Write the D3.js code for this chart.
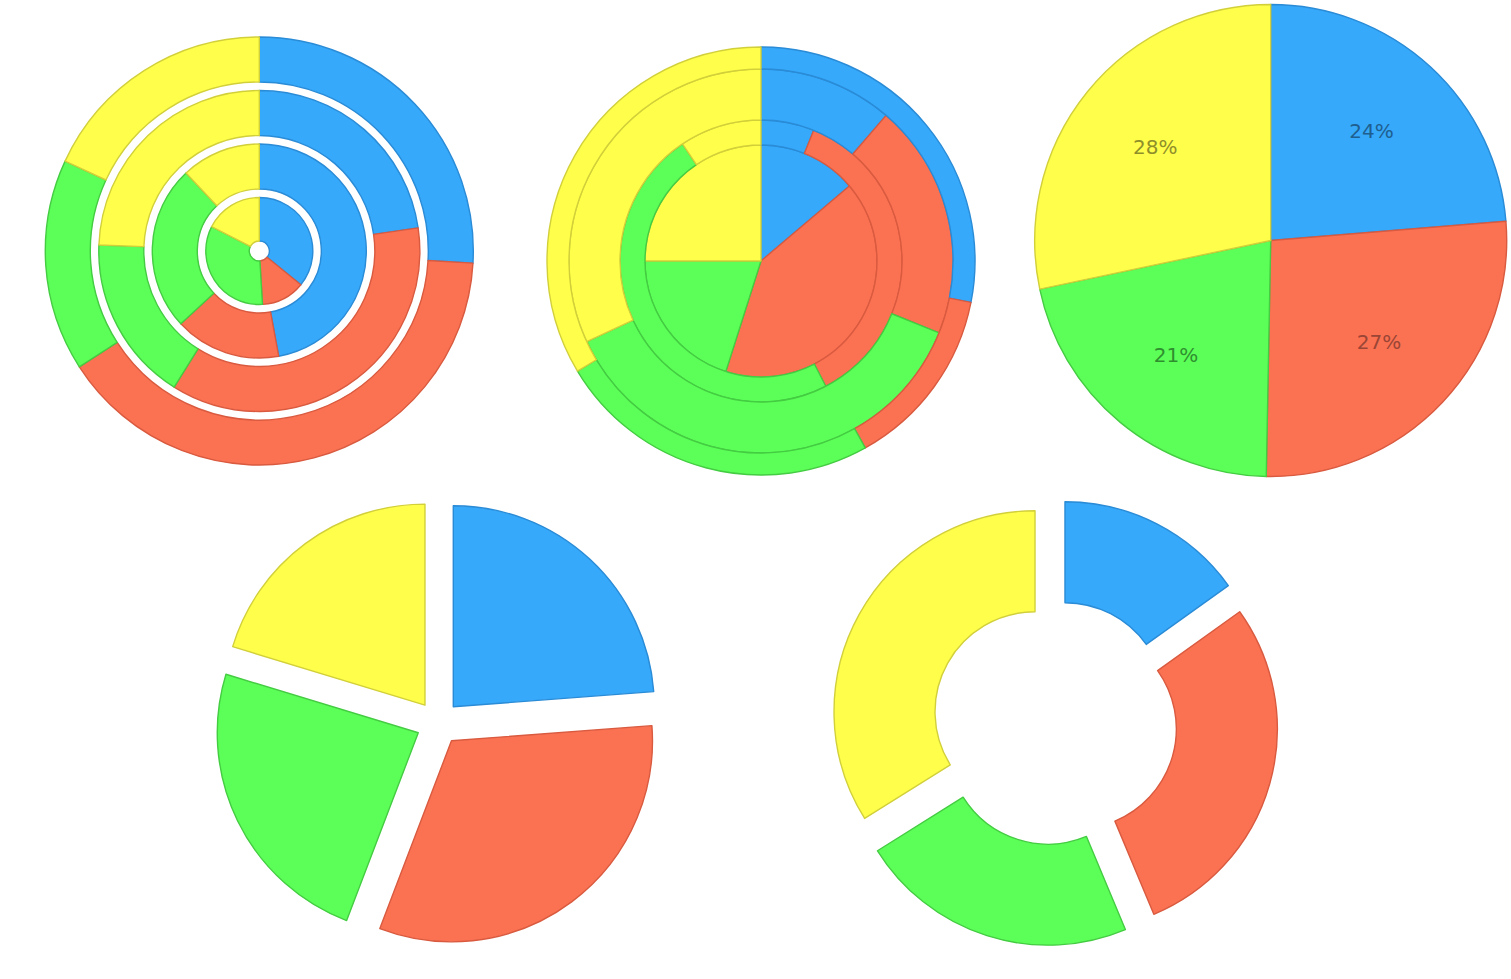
<!DOCTYPE html>
<html>
<head>
<meta charset="utf-8">
<script src="https://cdn.jsdelivr.net/npm/d3@7"></script>
<style>
  body { margin: 0; background: #fff; }
  svg { display: block; }
  .slice-label { font-family: "DejaVu Sans", Verdana, sans-serif; font-size: 20px; }
</style>
</head>
<body>
<div id="container"></div>
<script>
// categories and colours, clockwise from 12 o'clock
const categories = ['Blue', 'Red', 'Green', 'Yellow'];
const colors = ['#36a9fb', '#fb7253', '#5cff58', '#ffff4b'];
const strokes = ['#2a8bd6', '#d95a3f', '#44cc42', '#d2d03a'];
const labelColors = ['#1f5f8f', '#9a4535', '#2f8f2f', '#8f8f2a'];

// chart 1: separated rings, outer ring first
const ringsA = [
    [25.9, 40.0, 16.0, 18.1],
    [22.7, 36.2, 16.7, 24.4],
    [47.1, 16.0, 24.9, 12.0],
    [35.9, 13.2, 33.5, 17.5]
];

// chart 2: touching rings, inner pie first
const ringsB = [
    [13.8, 41.1, 20.1, 25.0],
    [6.1, 36.3, 48.2, 9.4],
    [11.3, 19.8, 37.0, 31.9],
    [28.1, 13.8, 24.5, 33.6]
];

// chart 3: plain pie with percent labels
const pieValues = [23.7, 26.6, 21.4, 28.3];

// chart 4: exploded pie
const explodedValues = [23.8, 32.0, 23.9, 20.3];

// chart 5: exploded donut
const donutValues = [15.1, 28.6, 22.4, 33.9];

const width = 1511;
const height = 979;

const svg = d3.select('#container').append('svg')
    .attr('width', width)
    .attr('height', height);

const color = d3.scaleOrdinal().domain(d3.range(categories.length)).range(colors);
const stroke = d3.scaleOrdinal().domain(d3.range(categories.length)).range(strokes);

const pie = d3.pie().sort(null);

//Draw one ring of slices
function drawRing(g, values, inner, outer, offset) {
    const arc = d3.arc().innerRadius(inner).outerRadius(outer);
    g.append('g').selectAll('path')
        .data(pie(values))
        .enter()
        .append('path')
        .attr('d', arc)
        .attr('transform', d => {
            if (!offset) return null;
            const mid = (d.startAngle + d.endAngle) / 2;
            return 'translate(' + (offset * Math.sin(mid)) + ',' + (-offset * Math.cos(mid)) + ')';
        })
        .attr('fill', (d, i) => color(i))
        .attr('stroke', (d, i) => stroke(i))
        .attr('stroke-width', 1.4)
        .attr('stroke-linejoin', 'round');
}

//Chart 1 - rings with white gaps
const g1 = svg.append('g').attr('transform', 'translate(259.3,251)');
const r1 = 214;
ringsA.forEach((vals, i) => {
    const outer = r1 * (ringsA.length - i) / ringsA.length;
    const inner = i === ringsA.length - 1 ? 10 : outer - 45;
    drawRing(g1, vals, inner, outer, 0);
});

//Chart 2 - touching rings
const g2 = svg.append('g').attr('transform', 'translate(761,261)');
const radiiB = [0, 116, 141, 192, 214];
ringsB.forEach((vals, i) => {
    drawRing(g2, vals, radiiB[i], radiiB[i + 1], 0);
});

//Chart 3 - pie with labels
const g3 = svg.append('g').attr('transform', 'translate(1270.7,240.5)');
const r3 = 236;
drawRing(g3, pieValues, 0, r3, 0);
const total3 = d3.sum(pieValues);
const labelArc = d3.arc().innerRadius(r3 * 0.63).outerRadius(r3 * 0.63);
g3.append('g').selectAll('text')
    .data(pie(pieValues))
    .enter()
    .append('text')
    .attr('class', 'slice-label')
    .attr('transform', d => 'translate(' + labelArc.centroid(d) + ')')
    .attr('text-anchor', 'middle')
    .attr('dy', '0.36em')
    .attr('fill', (d, i) => labelColors[i])
    .text(d => Math.round(d.value / total3 * 100) + '%');

//Chart 4 - exploded pie
const g4 = svg.append('g').attr('transform', 'translate(438.2,723)');
drawRing(g4, explodedValues, 0, 201, 22.2);

//Chart 5 - exploded donut
const g5 = svg.append('g').attr('transform', 'translate(1054.7,722.7)');
drawRing(g5, donutValues, 100, 201, 22.5);
</script>
</body>
</html>
